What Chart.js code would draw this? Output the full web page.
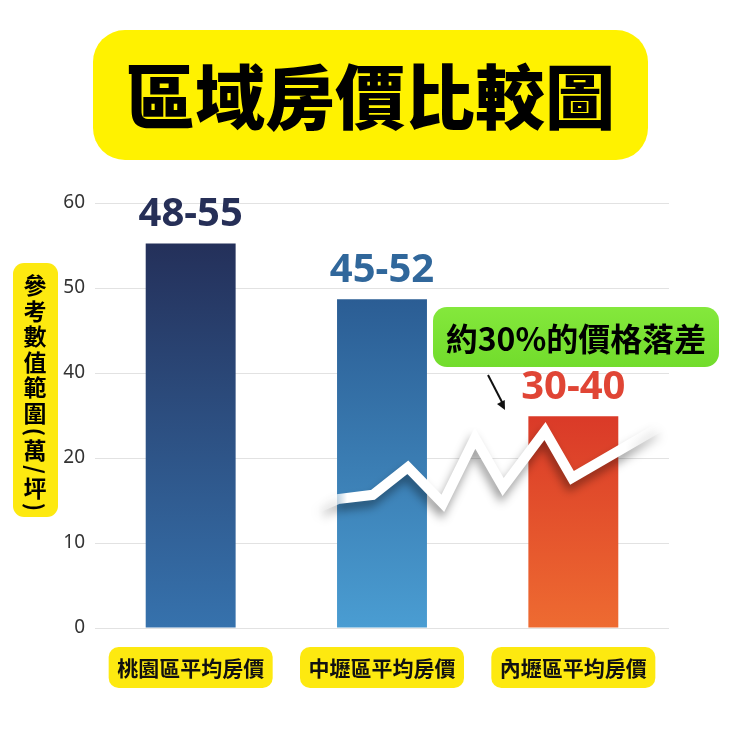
<!DOCTYPE html>
<html>
<head>
<meta charset="utf-8">
<script src="https://cdn.jsdelivr.net/npm/chart.js@4.4.1/dist/chart.umd.min.js"></script>
<style>
  html, body { margin: 0; padding: 0; background: #fff; }
  #wrap { width: 740px; height: 740px; }
</style>
</head>
<body>
<div id="wrap"><canvas id="chart" width="740" height="740"></canvas></div>
<script>
const chartTitle = "區域房價比較圖";
const yTitleChars = ["參", "考", "數", "值", "範", "圍", "(", "萬", "/", "坪", ")"];
const categories = ["桃園區平均房價", "中壢區平均房價", "內壢區平均房價"];
const barValues = [54.3, 46.4, 29.9];
const rangeLabels = ["48-55", "45-52", "30-40"];
const yTickLabels = ["0", "10", "20", "40", "50", "60"];
const trendX = [39.2, 42.3, 48.4, 54.5, 60.6, 66.2, 71.1, 78.4, 83.1, 98.4];
const trendY = [17.1, 18.2, 18.8, 22.7, 17.6, 26.8, 19.9, 27.8, 21.2, 28.4];
const badgeText = "約30%的價格落差";

const CJK = '"Noto Sans CJK TC", "Noto Sans", sans-serif';
const barTop = ["#24305a", "#2b5d94", "#da3a28"];
const barBottom = ["#3672ad", "#4a9dd2", "#ee6b31"];
const labelColors = ["#262f57", "#30679b", "#e04535"];

function barGradient(ctx) {
  const chart = ctx.chart;
  const area = chart.chartArea;
  if (!area) return barTop[ctx.dataIndex];
  const top = chart.scales.y.getPixelForValue(barValues[ctx.dataIndex]);
  const g = chart.ctx.createLinearGradient(0, top, 0, area.bottom);
  g.addColorStop(0, barTop[ctx.dataIndex]);
  g.addColorStop(1, barBottom[ctx.dataIndex]);
  return g;
}

function lineGradient(ctx) {
  const chart = ctx.chart;
  const area = chart.chartArea;
  if (!area) return "#fff";
  const x2 = chart.scales.x2;
  const g = chart.ctx.createLinearGradient(x2.getPixelForValue(trendX[0]), 0, x2.getPixelForValue(trendX[trendX.length - 1]), 0);
  g.addColorStop(0, "rgba(255,255,255,0.1)");
  g.addColorStop(0.08, "rgba(255,255,255,1)");
  g.addColorStop(0.9, "rgba(255,255,255,1)");
  g.addColorStop(1, "rgba(255,255,255,0.35)");
  return g;
}

function roundBox(c, x, y, w, h, r, fill) {
  c.beginPath();
  c.roundRect(x, y, w, h, r);
  c.fillStyle = fill;
  c.fill();
}

const backdrop = {
  id: "backdrop",
  beforeDraw(chart) {
    const c = chart.ctx;
    c.save();
    c.fillStyle = "#fff";
    c.fillRect(0, 0, chart.width, chart.height);

    // title
    roundBox(c, 93, 30, 555, 130, 32, "#fff200");
    c.fillStyle = "#000";
    c.font = "900 70px " + CJK;
    c.textAlign = "center";
    c.textBaseline = "middle";
    c.fillText(chartTitle, 370, 97);

    // y axis title, vertical
    roundBox(c, 13, 263, 45, 254, 11, "#fde910");
    let y = 273;
    yTitleChars.forEach((ch) => {
      const half = ch === "(" || ch === ")" || ch === "/";
      const adv = half ? 12 : 25.5;
      const cy = y + adv / 2;
      c.save();
      c.translate(35, cy);
      if (half) {
        c.rotate(Math.PI / 2);
        c.font = "bold 22px " + CJK;
      } else {
        c.font = "bold 23px " + CJK;
      }
      c.fillStyle = "#000";
      c.textAlign = "center";
      c.textBaseline = "middle";
      c.fillText(ch, 0, 0);
      c.restore();
      y += adv;
    });

    // x label boxes
    const xs = chart.scales.x;
    categories.forEach((_, i) => {
      const cx = xs.getPixelForTick(i);
      roundBox(c, cx - 82, 647, 164, 41, 10, "#fde910");
    });
    c.restore();
  },
};

const lineShadow = {
  id: "lineShadow",
  beforeDatasetDraw(chart, args) {
    if (args.index !== 1) return;
    const c = chart.ctx;
    c.save();
    c.shadowColor = "rgba(0,0,0,0.38)";
    c.shadowBlur = 10;
    c.shadowOffsetX = -2;
    c.shadowOffsetY = 7;
  },
  afterDatasetDraw(chart, args) {
    if (args.index !== 1) return;
    chart.ctx.restore();
  },
};

const overlay = {
  id: "overlay",
  afterDraw(chart) {
    const c = chart.ctx;
    const xs = chart.scales.x;
    const ys = chart.scales.y;
    c.save();
    c.textAlign = "center";
    c.textBaseline = "middle";
    c.font = 'bold 40px "Noto Sans", sans-serif';
    rangeLabels.forEach((t, i) => {
      c.fillStyle = labelColors[i];
      c.fillText(t, xs.getPixelForTick(i), ys.getPixelForValue(barValues[i]) - 29);
    });

    // badge
    const g = c.createLinearGradient(0, 307, 0, 367);
    g.addColorStop(0, "#84e83c");
    g.addColorStop(1, "#72dc2c");
    roundBox(c, 433, 307, 286, 60, 14, g);
    c.fillStyle = "#000";
    c.font = "bold 32px " + CJK;
    c.fillText(badgeText, 576, 339);

    // arrow
    c.strokeStyle = "#111";
    c.lineWidth = 2;
    c.beginPath();
    c.moveTo(488, 375);
    c.lineTo(503, 404);
    c.stroke();
    const ang = Math.atan2(408 - 375, 505 - 488);
    c.beginPath();
    c.moveTo(505, 410);
    c.lineTo(505 - 10 * Math.cos(ang - 0.45), 410 - 10 * Math.sin(ang - 0.45));
    c.lineTo(505 - 10 * Math.cos(ang + 0.45), 410 - 10 * Math.sin(ang + 0.45));
    c.closePath();
    c.fillStyle = "#111";
    c.fill();
    c.restore();
  },
};

new Chart(document.getElementById("chart"), {
  data: {
    labels: categories,
    datasets: [
      {
        type: "bar",
        data: barValues,
        xAxisID: "x",
        backgroundColor: barGradient,
        borderWidth: 0,
        grouped: false,
        barPercentage: 0.47,
        categoryPercentage: 1,
        order: 2,
      },
      {
        type: "line",
        data: trendX.map((x, i) => ({ x, y: trendY[i] })),
        xAxisID: "x2",
        borderColor: lineGradient,
        borderWidth: 10,
        borderJoinStyle: "miter",
        borderCapStyle: "butt",
        pointRadius: 0,
        tension: 0,
        fill: false,
        order: 1,
      },
    ],
  },
  options: {
    responsive: false,
    devicePixelRatio: 1,
    animation: false,
    layout: { padding: { left: 55, right: 71, top: 203, bottom: 0 } },
    plugins: { legend: { display: false }, tooltip: { enabled: false }, title: { display: false } },
    scales: {
      x: {
        type: "category",
        grid: { display: false, drawTicks: false },
        border: { display: false },
        ticks: { color: "#111", font: { family: CJK, size: 21, weight: "bold" }, padding: 27 },
        afterFit(scale) { scale.height = 112; },
      },
      x2: { type: "linear", min: 0, max: 100, display: false },
      y: {
        min: 0,
        max: 60,
        grid: { color: "#e2e2e2", drawTicks: false },
        border: { display: false },
        ticks: {
          stepSize: 12,
          padding: 10,
          color: "#333",
          font: { family: '"Noto Sans", sans-serif', size: 19 },
          callback: (v, i) => yTickLabels[i],
        },
        afterFit(scale) { scale.width = 40; },
      },
    },
  },
  plugins: [backdrop, lineShadow, overlay],
});
</script>
</body>
</html>
